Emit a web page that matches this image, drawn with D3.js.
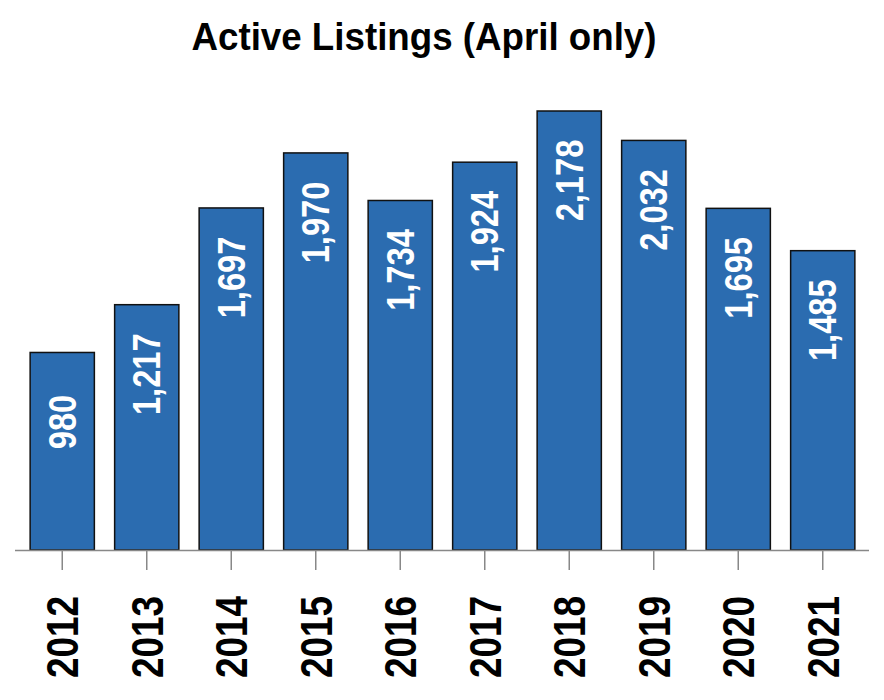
<!DOCTYPE html>
<html><head><meta charset="utf-8">
<script src="https://cdn.jsdelivr.net/npm/d3@7"></script>
<style>body{margin:0;background:#fff}</style>
</head><body>
<svg id="c" width="884" height="700"></svg>
<script>
const years = ["2012","2013","2014","2015","2016","2017","2018","2019","2020","2021"];
const listings = [980,1217,1697,1970,1734,1924,2178,2032,1695,1485];
const title = "Active Listings (April only)";

const FONT = "'Liberation Sans',Arial,sans-serif";
const svg = d3.select("#c");
const x = d3.scaleBand().domain(years).range([20, 865]).paddingInner(0.24).paddingOuter(0.12);
const y = d3.scaleLinear().domain([0, 2400]).range([550, 66.25]);
const fmt = d3.format(",");

svg.append("text").attr("x", 424).attr("y", 50).attr("text-anchor","middle")
  .attr("font-family",FONT).attr("font-weight","bold").attr("font-size",38)
  .attr("textLength",465).attr("lengthAdjust","spacingAndGlyphs")
  .attr("fill","#000").text(title);

svg.selectAll("rect.bar").data(years).join("rect").attr("class","bar")
  .attr("x", d=>x(d)).attr("width", x.bandwidth())
  .attr("y", (d,i)=>y(listings[i])).attr("height",(d,i)=>y(0)-y(listings[i]))
  .attr("fill","#2b6cb0").attr("stroke","#111").attr("stroke-width",1.5);

svg.selectAll("text.val").data(years).join("text").attr("class","val")
  .attr("transform",(d,i)=>`translate(${x(d)+x.bandwidth()/2},${y(listings[i])+69.5}) rotate(-90) scale(0.86,1)`)
  .attr("dy","0.36em").attr("text-anchor","middle")
  .attr("font-family",FONT).attr("font-weight","bold").attr("font-size",38).attr("fill","#fff")
  .text((d,i)=>fmt(listings[i]));

const ax = svg.append("g").attr("transform","translate(0,550)")
  .call(d3.axisBottom(x).tickSize(20).tickSizeOuter(0).tickPadding(26));
ax.select(".domain").remove();
ax.append("line").attr("x1",15).attr("x2",869).attr("y1",0.5).attr("y2",0.5).attr("stroke","#888").attr("stroke-width",1.5);
ax.selectAll(".tick line").attr("stroke","#888").attr("stroke-width",1.5).attr("y1",1);
ax.selectAll(".tick text")
  .attr("transform","translate(0,46) rotate(-90) scale(0.82,1)").attr("text-anchor","end").attr("dy","0.36em")
  .attr("x",0).attr("y",0)
  .attr("font-family",FONT).attr("font-weight","bold").attr("font-size",45).attr("fill","#000");
</script>
</body></html>
